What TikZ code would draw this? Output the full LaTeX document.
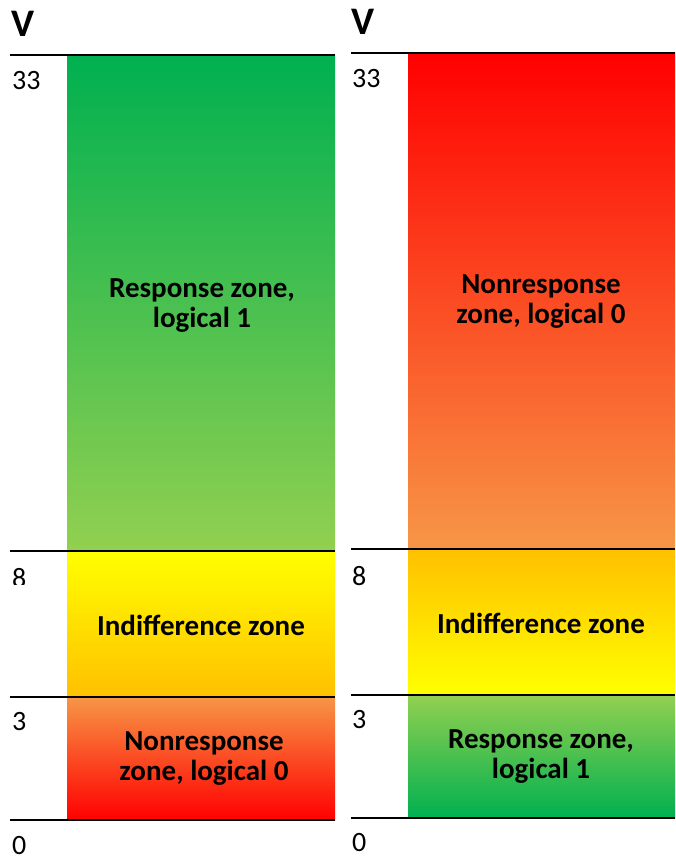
\documentclass[tikz,border=0pt]{standalone}
\usepackage{fontspec}
\setmainfont{Carlito}
\definecolor{gdark}{RGB}{0,176,80}
\definecolor{glight}{RGB}{146,208,80}
\definecolor{ylw}{RGB}{255,255,0}
\definecolor{amber}{RGB}{255,192,0}
\definecolor{orng}{RGB}{247,150,70}
\definecolor{rd}{RGB}{255,0,0}
\begin{document}
\begin{tikzpicture}[x=1pt,y=-1pt,
  zonetext/.style={font=\fontsize{29}{30}\selectfont\bfseries, align=center, text=black, inner sep=0},
  numlab/.style={font=\fontsize{28}{30}\selectfont, anchor=west, inner sep=0},
  vlab/.style={font=\fontsize{39}{40}\selectfont\bfseries, anchor=west, inner sep=0},
  rulex/.style={line width=2pt, black}]
\useasboundingbox[fill=white] (0,0) rectangle (675,859);
% left panel
\shade[top color=gdark, bottom color=glight] (67,55) rectangle (335,551);
\shade[top color=ylw, bottom color=amber] (67,551) rectangle (335,697);
\shade[top color=orng, bottom color=rd] (67,697) rectangle (335,820);
% right panel
\shade[top color=rd, bottom color=orng] (408,53) rectangle (675,549);
\shade[top color=amber, bottom color=ylw] (408,549) rectangle (675,695);
\shade[top color=glight, bottom color=gdark] (408,695) rectangle (675,818);
% rules
\coordinate (l1a) at (10,55);  \coordinate (l1b) at (335,55);
\coordinate (l2a) at (10,551); \coordinate (l2b) at (335,551);
\coordinate (l3a) at (10,697); \coordinate (l3b) at (335,697);
\coordinate (l4a) at (10,820); \coordinate (l4b) at (335,820);
\coordinate (r1a) at (351,53);  \coordinate (r1b) at (675,53);
\coordinate (r2a) at (351,549); \coordinate (r2b) at (675,549);
\coordinate (r3a) at (351,695); \coordinate (r3b) at (675,695);
\coordinate (r4a) at (351,818); \coordinate (r4b) at (675,818);
\foreach \p in {l1,l2,l3,l4,r1,r2,r3,r4} \draw[rulex] (\p a) -- (\p b);
% axis labels
\node[vlab] (lv) at (11,24) {V};
\node[vlab] (rv) at (351,22) {V};
\node[numlab] (l33) at (12,81) {33};
\begin{scope}
\clip (0,553) rectangle (60,584);
\node[numlab] (l8) at (12,578) {8};
\end{scope}
\node[numlab] (l3) at (12,722) {3};
\node[numlab] (l0) at (12,845) {0};
\node[numlab] (r33) at (352,79) {33};
\node[numlab] (r8) at (352,576) {8};
\node[numlab] (r3) at (352,720) {3};
\node[numlab] (r0) at (352,843) {0};
% zone texts
\node[zonetext] (lt) at (202,306) {Response zone,\\logical 1};
\node[zonetext] (lm) at (201,625) {Indifference zone};
\node[zonetext] (lb) at (204,759) {Nonresponse\\zone, logical 0};
\node[zonetext] (rt) at (541,302) {Nonresponse\\zone, logical 0};
\node[zonetext] (rm) at (541,623) {Indifference zone};
\node[zonetext] (rb) at (541,757) {Response zone,\\logical 1};
\end{tikzpicture}
\end{document}
